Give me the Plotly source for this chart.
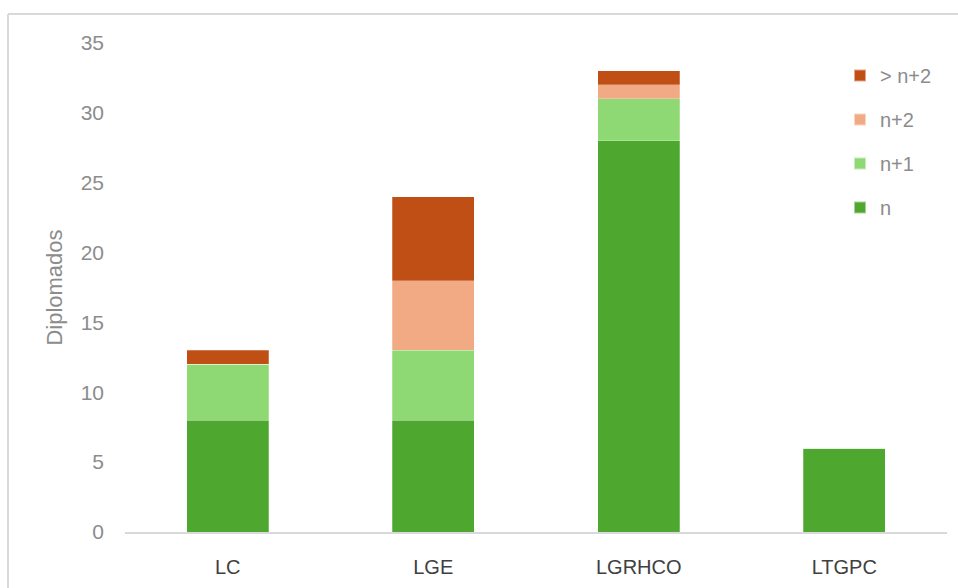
import plotly.graph_objects as go

# Graduates per degree, split by years taken to finish
courses = ["LC", "LGE", "LGRHCO", "LTGPC"]
n_years = [8, 8, 28, 6]
n_plus_1 = [4, 5, 3, 0]
n_plus_2 = [0, 5, 1, 0]
over_n_plus_2 = [1, 6, 1, 0]

series_names = ["n", "n+1", "n+2", "> n+2"]
series_values = [n_years, n_plus_1, n_plus_2, over_n_plus_2]
series_colors = ["#4ea72e", "#8ed973", "#f2aa84", "#c04f15"]

y_ticks = [0, 5, 10, 15, 20, 25, 30, 35]

W, H = 958, 588
L, R, T, B = 125, 11, 43, 56

fig = go.Figure()
for i, (name, vals, color) in enumerate(zip(series_names, series_values, series_colors)):
    fig.add_trace(go.Bar(
        x=courses, y=vals, name=name, legendgroup=name,
        legendrank=1000 - i,  # top of the stack listed first
        marker=dict(color=color, line=dict(color="rgba(255,255,255,0.5)", width=0.5)),
    ))

pw, ph = W - L - R, H - T - B


def px_x(p):
    return (p - L) / pw


def px_y(p):
    return (H - B - p) / ph


# Chart-area frame (left and top edges)
frame = dict(type="line", xref="paper", yref="paper",
             line=dict(color="#d9d9d9", width=2), layer="below")
fig.add_shape(**frame, x0=px_x(8), x1=px_x(8), y0=px_y(14), y1=px_y(600))
fig.add_shape(**frame, x0=px_x(8), x1=px_x(970), y0=px_y(14), y1=px_y(14))

fig.update_layout(
    width=W, height=H,
    margin=dict(l=L, r=R, t=T, b=B, pad=0),
    barmode="stack",
    bargap=0.6,
    plot_bgcolor="white",
    paper_bgcolor="white",
    font=dict(family="Liberation Sans, Arial, sans-serif", color="#8c8c8c"),
    showlegend=True,
    legend=dict(
        x=px_x(840), y=px_y(56), xanchor="left", yanchor="top",
        traceorder="grouped",
        font=dict(size=20, color="#8c8c8c"),
        itemsizing="constant",
        tracegroupgap=15,
        itemwidth=30,
        bgcolor="rgba(0,0,0,0)",
    ),
    xaxis=dict(
        showline=True, linecolor="#d9d9d9", linewidth=2,
        ticks="", showgrid=False,
        tickfont=dict(size=20, color="#404040"),
        ticklabelstandoff=16,
    ),
    yaxis=dict(
        range=[0, 35], tickvals=y_ticks, showgrid=False, zeroline=False,
        showline=False, ticks="",
        tickfont=dict(size=21, color="#8c8c8c"),
        ticklabelstandoff=20,
        title=dict(text="Diplomados", font=dict(size=22, color="#8c8c8c"), standoff=11),
    ),
)

fig.write_html("out.html")
